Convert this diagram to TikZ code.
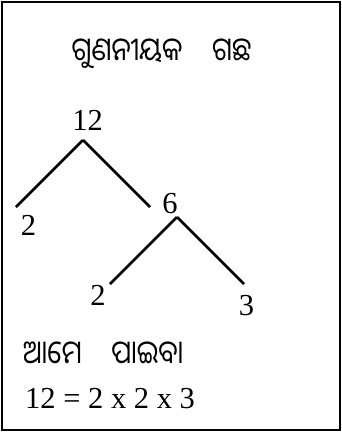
\documentclass[tikz,border=0pt]{standalone}
\usepackage{fontspec}
\setmainfont{Liberation Serif}
\newfontfamily\oriyafont[Script=Oriya]{Noto Sans Oriya UI}
\usepackage{tikz}
\usetikzlibrary{positioning,calc}
\definecolor{ftblack}{HTML}{000000}
\tikzset{
  frame/.style  ={draw=ftblack, line width=2.5pt},
  num/.style    ={font=\fontsize{30.5}{34}\selectfont, inner sep=0pt, anchor=base},
  odia/.style   ={font=\oriyafont\fontsize{27}{31}\selectfont, inner sep=0pt},
  branch/.style ={draw=ftblack, line width=2.8pt},
}
\newcommand{\tallodia}[1]{\scalebox{1}[1.2]{#1}}

\begin{document}
\begin{tikzpicture}[x=1pt,y=-1pt]
      \useasboundingbox (0,0) rectangle (342,432);
      \draw[frame] (2,2) rectangle (340,430);
      % title
      \node[odia, anchor=base] (title) at (161.5,63) {\tallodia{ଗୁଣନୀୟକ\hspace{1.1em}ଗଛ}};
      % factor tree
      \node[num] (n12) at (87.5,130) {12};
      \node[num] (n2a) at (28.5,235) {2};
      \node[num] (n6)  at (170,213)  {6};
      \node[num] (n2b) at (98,305)   {2};
      \node[num] (n3)  at (246.5,315) {3};
      \coordinate (top12) at (83,140);
      \coordinate (top6)  at (177,217);
      \coordinate (end2a) at (16,207);
      \coordinate (end6)  at (150,207);
      \coordinate (end2b) at (110,284);
      \coordinate (end3)  at (244,284);
      \foreach \a/\b in {top12/end2a,top12/end6,top6/end2b,top6/end3}{
          \draw[branch] (\a) -- (\b);}
      % result
      \node[odia, anchor=base west] (wefind) at (23,366) {\tallodia{ଆମେ\hspace{1.1em}ପାଇବା}};
      \node[num, anchor=base west] (result) at (25,408) {12 = 2 x 2 x 3};
    \end{tikzpicture}
\end{document}
